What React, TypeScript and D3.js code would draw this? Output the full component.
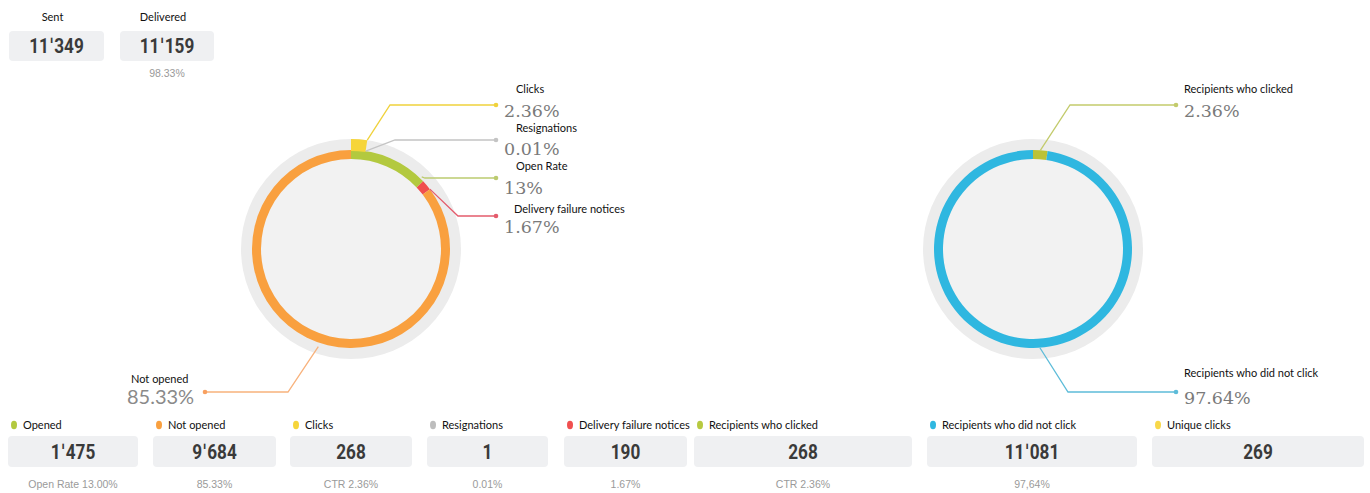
import React from "react";
import * as d3 from "d3";

// ---------- data ----------
const topLabels = ["Sent", "Delivered"];
const topValues = [11349, 11159];
const topSubs = ["", "98.33%"];

const ringLabels = ["Open Rate", "Delivery failure notices", "Not opened"];
const ringValues = [13, 1.67, 85.33];
const clicksPct = 2.36;
const resignPct = 0.01;

const rightLabels = ["Recipients who clicked", "Recipients who did not  click"];
const rightValues = [2.36, 97.64];

const bottomLabels = [
  "Opened", "Not opened", "Clicks", "Resignations", "Delivery failure notices",
  "Recipients who clicked", "Recipients who did not click", "Unique clicks",
];
const bottomValues = [1475, 9684, 268, 1, 190, 268, 11081, 269];
const bottomSubs = ["Open Rate 13.00%", "85.33%", "CTR 2.36%", "0.01%", "1.67%", "CTR 2.36%", "97,64%", ""];

// ---------- styles / layout ----------
const C = {
  green: "#b3c93f", orange: "#f9a03f", red: "#f04f4f", yellow: "#f6d53a",
  grey: "#bdbdbd", cyan: "#2fb7e0", olive: "#bcc238",
};
const bottomColors = [C.green, C.orange, C.yellow, C.grey, C.red, "#b7c940", C.cyan, "#f8d84a"];
const bottomBoxes: [number, number][] = [
  [8, 138], [153, 276], [290, 412], [427, 548], [564, 687], [694, 912], [927, 1137], [1152, 1364],
];
const topBoxes: [number, number][] = [[9, 104], [120, 214]];

const W = 1370, H = 493;
const L = { cx: 351, cy: 249 };
const R = { cx: 1033, cy: 249 };
const rIn = 90, rOut = 99, rHalo = 110;
const DEG = Math.PI / 180;

const fmt = (n: number) => d3.format(",")(n).replace(/,/g, "ˈ");
const pt = (c: { cx: number; cy: number }, a: number, r: number): [number, number] =>
  [c.cx + r * Math.sin(a), c.cy - r * Math.cos(a)];

const SANS = "Lato, 'Open Sans', sans-serif";
const VAL = "Roboto, 'DejaVu Sans', sans-serif";
const SERIF = "'DejaVu Serif', serif";
const SUB = "'Liberation Sans', Arial, sans-serif";

function Value({ x, y, text, size = 20 }: { x: number; y: number; text: string; size?: number }) {
  return (
    <g transform={`translate(${x},${y}) scale(0.86,1)`}>
      <text textAnchor="middle" fontFamily={VAL} fontWeight={700} fontSize={size} fill="#3a3a3a">{text}</text>
    </g>
  );
}

function Callout({ start, elbow, dotX, color, label, value, labelDx = 20, labelDy = -12, valueDy = 12 }: any) {
  const dotY = elbow[1];
  const line = d3.line()([start, elbow, [dotX, dotY]] as [number, number][]) as string;
  return (
    <g>
      <path d={line} fill="none" stroke={color} strokeWidth={1.3} />
      <circle cx={dotX} cy={dotY} r={2.3} fill={color} />
      <text x={dotX + labelDx} y={dotY + labelDy} fontFamily={SANS} fontSize={11} fill="#111">{label}</text>
      <text x={dotX + 8} y={dotY + valueDy} fontFamily={SERIF} fontSize={17.5} fill="#7a7a7a">{value}</text>
    </g>
  );
}

export default function App() {
  const pie = d3.pie<number>().sort(null).value((d) => d);
  const arcs = pie(ringValues);
  const ringArc = d3.arc<any>().innerRadius(rIn).outerRadius(rOut);
  const leftColors = [C.green, C.red, C.orange];

  const clickEnd = (clicksPct / 100) * 2 * Math.PI;
  const tabArc = d3.arc<any>().innerRadius(rOut - 1).outerRadius(rHalo)({ startAngle: 0, endAngle: clickEnd }) as string;
  const resignEnd = clickEnd + (resignPct / 100) * 2 * Math.PI;

  const rArcs = pie(rightValues);
  const rightColors = [C.olive, C.cyan];

  const openMid = (arcs[0].startAngle + arcs[0].endAngle) / 2;
  const failMid = (arcs[1].startAngle + arcs[1].endAngle) / 2;

  return (
    <svg width={W} height={H} style={{ position: "absolute", left: 0, top: 0, background: "#fff" }}>
      {/* top cards */}
      {topLabels.map((lab, i) => {
        const [x0, x1] = topBoxes[i];
        const cx = (x0 + x1) / 2;
        return (
          <g key={lab}>
            <text x={cx - 4} y={21} textAnchor="middle" fontFamily={SANS} fontSize={11} fill="#111">{lab}</text>
            <rect x={x0} y={31} width={x1 - x0} height={30} rx={4} fill="#eff0f2" />
            <Value x={cx} y={53} text={fmt(topValues[i])} />
            {topSubs[i] && (
              <text x={cx} y={77} textAnchor="middle" fontFamily={SUB} fontSize={10.5} fill="#9a9a9a">{topSubs[i]}</text>
            )}
          </g>
        );
      })}

      {/* left donut */}
      <g>
        <circle cx={L.cx} cy={L.cy} r={rHalo} fill="#ececec" />
        <circle cx={L.cx} cy={L.cy} r={rIn} fill="#f2f2f2" />
        <g transform={`translate(${L.cx},${L.cy})`}>
          {arcs.map((a, i) => (
            <path key={i} d={ringArc(a) as string} fill={leftColors[i]} />
          ))}
          <path d={tabArc} fill={C.yellow} />
        </g>
        <Callout start={pt(L, clickEnd, rHalo)} elbow={[390, 105]} dotX={496} color="#f0d23c" label="Clicks" value="2.36%" labelDy={-12} valueDy={12} />
        <Callout start={pt(L, resignEnd, rOut)} elbow={[395, 140]} dotX={496} color="#c4c4c4" label="Resignations" value="0.01%" labelDy={-8} valueDy={15} />
        <Callout start={pt(L, openMid + 0.9 * (arcs[0].endAngle - openMid), rOut + 2)} elbow={[425, 178]} dotX={496} color="#bccb70" label={ringLabels[0]} value="13%" labelDy={-8} valueDy={16} />
        <Callout start={pt(L, failMid + 3 * DEG, rOut)} elbow={[458, 216]} dotX={496} color="#e45c6c" label={ringLabels[1]} value="1.67%" labelDx={18} labelDy={-3} valueDy={17} />
        {/* Not opened (left side) */}
        {(() => {
          const s = pt(L, 198.5 * DEG, rOut + 4);
          const e: [number, number] = [288, 392];
          const d = d3.line()([s, e, [205, 392]]) as string;
          return (
            <g>
              <path d={d} fill="none" stroke="#f8b27c" strokeWidth={1.3} />
              <circle cx={205} cy={392} r={2.3} fill="#f8a060" />
              <text x={131} y={383} fontFamily={SANS} fontSize={11} fill="#111">{ringLabels[2]}</text>
              <text x={127} y={404} fontFamily={SANS} fontSize={20} fill="#8a8a8a">85.33%</text>
            </g>
          );
        })()}
      </g>

      {/* right donut */}
      <g>
        <circle cx={R.cx} cy={R.cy} r={rHalo} fill="#ececec" />
        <circle cx={R.cx} cy={R.cy} r={rIn} fill="#f2f2f2" />
        <g transform={`translate(${R.cx},${R.cy})`}>
          {rArcs.map((a, i) => (
            <path key={i} d={ringArc(a) as string} fill={rightColors[i]} />
          ))}
        </g>
        <Callout start={pt(R, (rArcs[0].startAngle + rArcs[0].endAngle) / 2, rOut)} elbow={[1070, 105]} dotX={1176} color="#c3cb6c" label={rightLabels[0]} value="2.36%" labelDx={8} labelDy={-12} valueDy={12} />
        <Callout start={pt(R, 176 * DEG, rOut)} elbow={[1068, 392]} dotX={1176} color="#5dbcd9" label={rightLabels[1]} value="97.64%" labelDx={8} labelDy={-15} valueDy={12} />
      </g>

      {/* bottom cards */}
      {bottomLabels.map((lab, i) => {
        const [x0, x1] = bottomBoxes[i];
        const cx = (x0 + x1) / 2;
        return (
          <g key={lab}>
            <ellipse cx={x0 + 6} cy={425} rx={3} ry={4.2} fill={bottomColors[i]} />
            <text x={x0 + 15} y={429} fontFamily={SANS} fontSize={11} fill="#111">{lab}</text>
            <rect x={x0} y={436} width={x1 - x0} height={31} rx={4} fill="#eff0f2" />
            <Value x={cx} y={459} text={fmt(bottomValues[i])} />
            {bottomSubs[i] && (
              <text x={cx} y={488} textAnchor="middle" fontFamily={SUB} fontSize={10.5} fill="#9a9a9a">{bottomSubs[i]}</text>
            )}
          </g>
        );
      })}
    </svg>
  );
}
